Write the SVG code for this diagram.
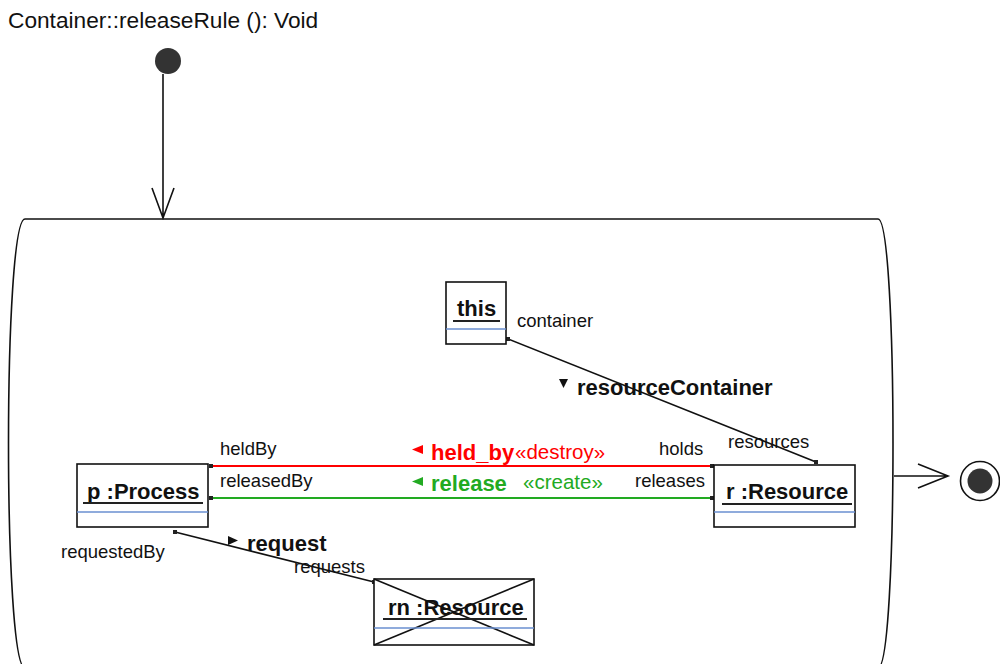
<svg xmlns="http://www.w3.org/2000/svg" width="1000" height="664" viewBox="0 0 1000 664">
<style>
text{font-family:"Liberation Sans",Arial,sans-serif;fill:#111}
.t{font-size:22.7px}
.l{font-size:18.5px}
.b{font-size:22px;font-weight:bold}
.st{font-size:20.5px}
.box{fill:#fff;stroke:#111;stroke-width:1.6}
.ul{stroke:#222;stroke-width:2}
.sep{stroke:#6a8fd0;stroke-width:1.6}
.ln{fill:none;stroke:#111;stroke-width:1.6}
.red{fill:#ff0000}
.grn{fill:#22aa22}
.end{fill:#222}
</style>
<text class="t" x="8" y="28">Container::releaseRule (): Void</text>
<g id="start"><circle cx="168" cy="61" r="13" fill="#333"/></g>
<g id="activity"><path class="ln" d="M25,219 L878,219 C898,219 898,668 878,668 L25,668 C3,668 3,219 25,219 Z"/></g>
<g id="final"><circle cx="980" cy="481" r="19.5" fill="#fff" stroke="#111" stroke-width="1.6"/><circle cx="980" cy="481" r="12.5" fill="#333"/></g>
<g id="connectors">
<path class="ln" d="M163,74 L163,218 M152,188 L163,218 L174,188"/>
<path class="ln" d="M894,476 L948,476 M918,464 L948,476 L918,488"/>
<line x1="508" y1="339" x2="816" y2="462" class="ln"/>
<rect x="506" y="337" width="4" height="4" class="end"/>
<rect x="814" y="460" width="4" height="4" class="end"/>
<line x1="210" y1="466" x2="714" y2="466" stroke="#ff0000" stroke-width="2"/>
<rect x="209" y="464" width="4" height="4" class="end"/>
<rect x="710" y="464" width="4" height="4" class="end"/>
<line x1="210" y1="498" x2="714" y2="498" stroke="#22aa22" stroke-width="2"/>
<rect x="209" y="496" width="4" height="4" class="end"/>
<rect x="710" y="496" width="4" height="4" class="end"/>
<line x1="175" y1="532" x2="374" y2="582" class="ln"/>
<rect x="173" y="530" width="4" height="4" class="end"/>
<rect x="372" y="580" width="4" height="4" class="end"/>
<text class="l" x="517" y="327">container</text>
<text class="l" x="728" y="448">resources</text>
<polygon points="559,379 568,379 563.5,388" fill="#111"/>
<text class="b" x="577" y="395">resourceContainer</text>
<text class="l" x="220" y="455">heldBy</text>
<text class="l" x="659" y="455">holds</text>
<polygon points="423,445 423,454 412,449.5" class="red"/>
<text class="b red" x="431" y="460">held_by</text>
<text class="st red" x="515" y="459">«destroy»</text>
<text class="l" x="220" y="487">releasedBy</text>
<text class="l" x="635" y="487">releases</text>
<polygon points="423,477 423,486 412,481.5" class="grn"/>
<text class="b grn" x="431" y="491">release</text>
<text class="st grn" x="523" y="489">«create»</text>
<text class="l" x="61" y="558">requestedBy</text>
<polygon points="228,536 228,545 238,540.5" fill="#111"/>
<text class="b" x="247" y="551">request</text>
<text class="l" x="294" y="573">requests</text>
</g>
<g id="this">
<rect x="446" y="282" width="60" height="62" class="box"/>
<text class="b" x="457" y="316">this</text>
<line x1="453" y1="321" x2="500" y2="321" class="ul"/>
<line x1="446" y1="329" x2="506" y2="329" class="sep"/>
</g>
<g id="p">
<rect x="77" y="464" width="131" height="63" class="box"/>
<text class="b" x="87" y="499">p :Process</text>
<line x1="83" y1="503" x2="203" y2="503" class="ul"/>
<line x1="77" y1="512" x2="208" y2="512" class="sep"/>
</g>
<g id="r">
<rect x="714" y="465" width="141" height="62" class="box"/>
<text class="b" x="726" y="499">r :Resource</text>
<line x1="722" y1="504" x2="852" y2="504" class="ul"/>
<line x1="714" y1="512" x2="855" y2="512" class="sep"/>
</g>
<g id="rn">
<rect x="374" y="579" width="160" height="66" class="box"/>
<line x1="374" y1="579" x2="534" y2="645" class="ln"/>
<line x1="534" y1="579" x2="374" y2="645" class="ln"/>
<text class="b" x="388" y="615">rn :Resource</text>
<line x1="383" y1="619" x2="527" y2="619" class="ul"/>
<line x1="374" y1="628" x2="534" y2="628" class="sep"/>
</g>
</svg>
